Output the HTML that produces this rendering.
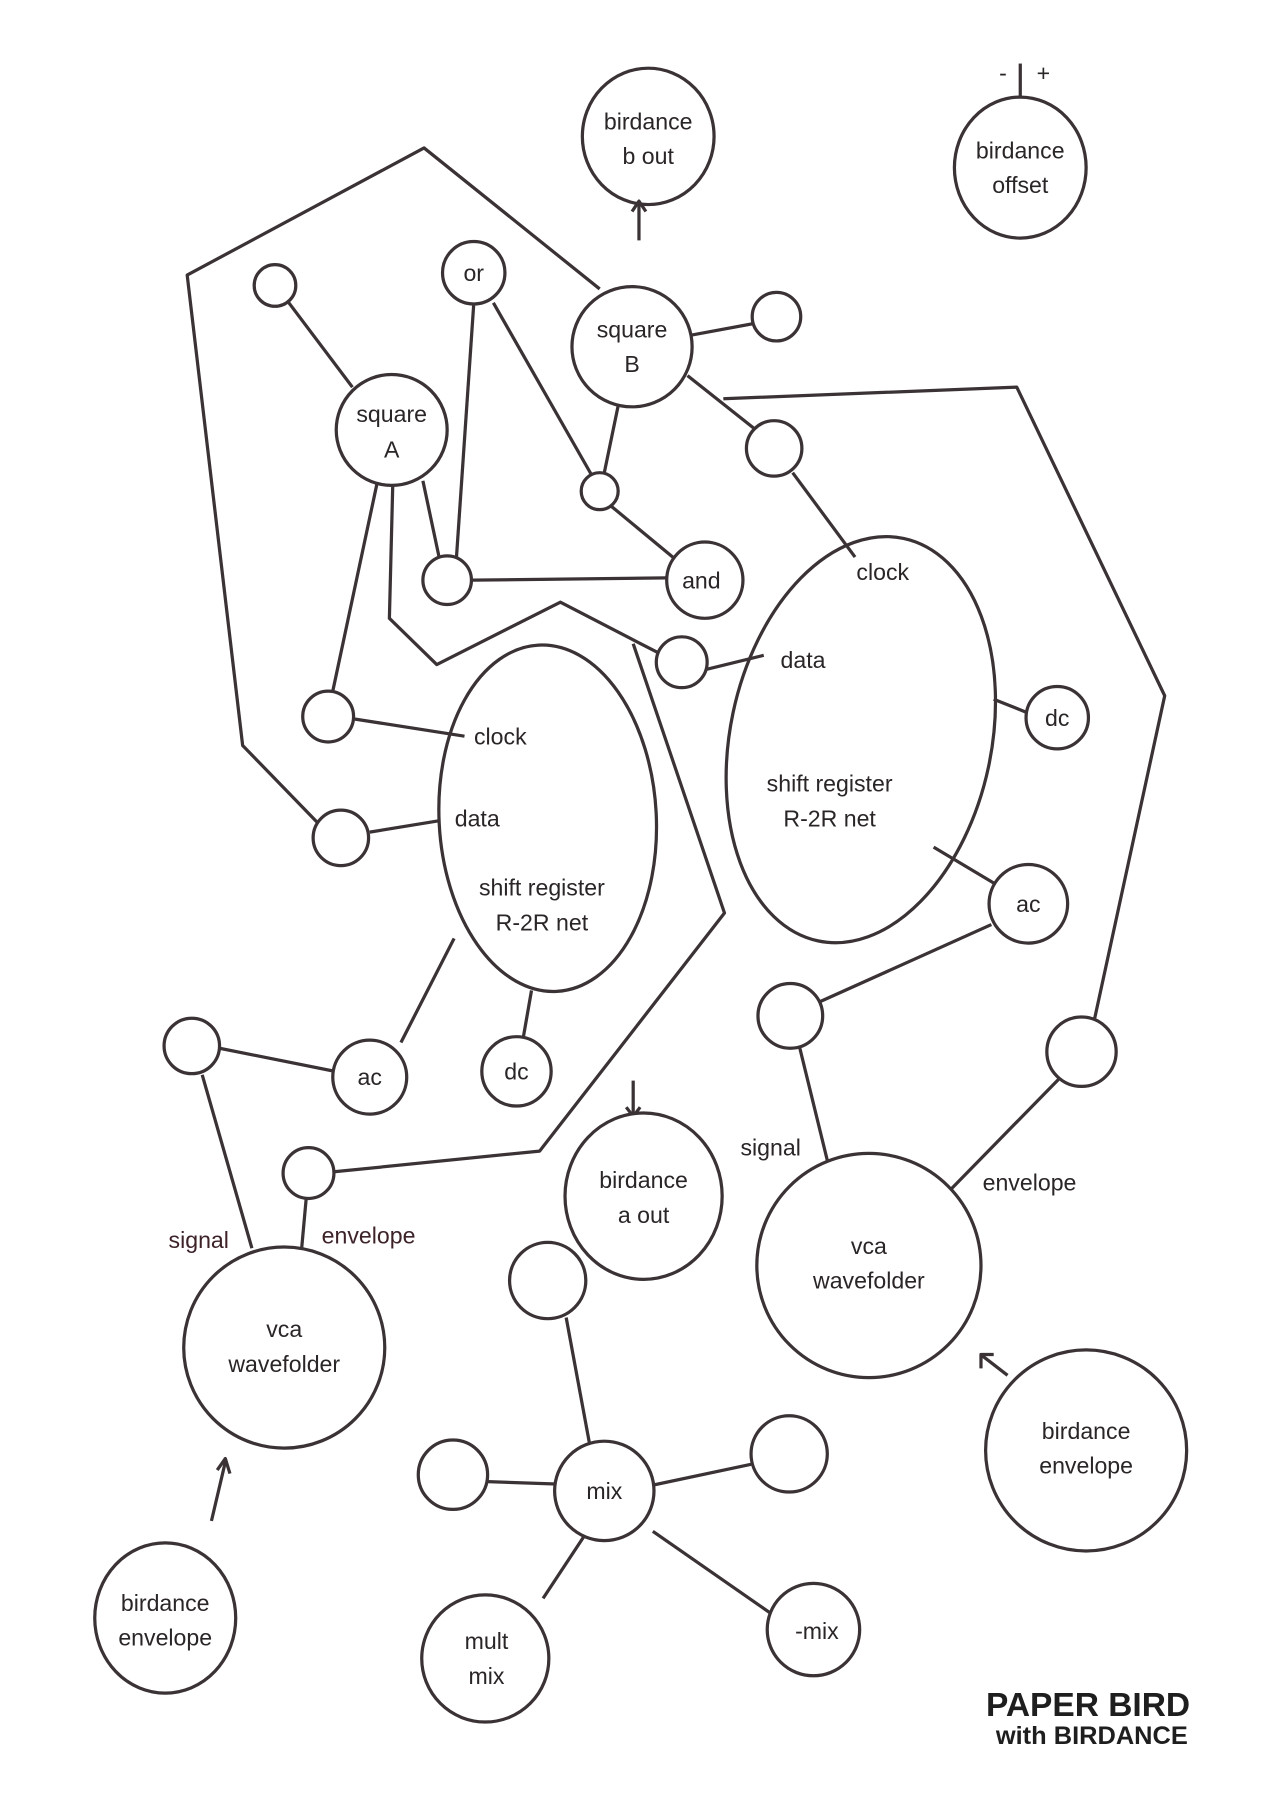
<!DOCTYPE html>
<html><head><meta charset="utf-8"><style>
html,body{margin:0;padding:0;background:#fff}
svg{display:block}
text{font-family:"Liberation Sans",sans-serif;font-size:20px;fill:#2a2527;text-anchor:middle}
</style></head><body>
<svg width="1271" height="1796" viewBox="0 0 1100 1554" preserveAspectRatio="none" xmlns="http://www.w3.org/2000/svg">
<g fill="none" stroke="#3a3235" stroke-width="2.8" stroke-linejoin="round">
<!-- top polygon -->
<polyline points="519,250 367,128 162,238 210,645 275,712"/>
<!-- lines -->
<line x1="883" y1="55" x2="883" y2="86"/>
<line x1="250" y1="262" x2="305" y2="335"/>
<line x1="598" y1="290" x2="652" y2="280"/>
<line x1="427" y1="262" x2="512" y2="411"/>
<line x1="535" y1="351" x2="523" y2="409"/>
<line x1="529" y1="438" x2="587" y2="486"/>
<line x1="409" y1="502" x2="577" y2="500"/>
<line x1="410" y1="263" x2="395" y2="483"/>
<line x1="366" y1="416" x2="380" y2="482"/>
<line x1="595" y1="325" x2="653" y2="371"/>
<line x1="686" y1="409" x2="740" y2="482"/>
<polyline points="626,345 880,335 1008,602 947,883"/>
<line x1="612" y1="579" x2="661" y2="567"/>
<line x1="860" y1="605" x2="890" y2="617"/>
<line x1="808" y1="733" x2="860" y2="764"/>
<line x1="858" y1="800" x2="709" y2="867"/>
<line x1="692" y1="906" x2="716" y2="1004"/>
<line x1="916" y1="934" x2="823" y2="1029"/>
<path d="M872,1190 L850,1173"/>
<path d="M849,1184 L849,1172 L860,1172"/>
<polyline points="340,416 337,535 378,575 485,521 570,565"/>
<polyline points="548,557 627,790 467,996 288,1014"/>
<line x1="327" y1="415" x2="288" y2="598"/>
<line x1="306" y1="622" x2="402" y2="637"/>
<line x1="320" y1="720" x2="381" y2="710"/>
<line x1="393" y1="812" x2="347" y2="902"/>
<line x1="460" y1="857" x2="453" y2="897"/>
<line x1="190" y1="907" x2="290" y2="927"/>
<line x1="175" y1="930" x2="218" y2="1080"/>
<line x1="265" y1="1037" x2="261" y2="1081"/>
<path d="M183,1316 L195,1265"/>
<path d="M188,1272 L195,1262 L199,1275"/>
<line x1="548" y1="935" x2="548" y2="966"/>
<path d="M542,958 L548,966 L554,958"/>
<line x1="490" y1="1140" x2="510" y2="1248"/>
<line x1="422" y1="1282" x2="481" y2="1284"/>
<line x1="565" y1="1285" x2="650" y2="1267"/>
<line x1="505" y1="1330" x2="470" y2="1383"/>
<line x1="565" y1="1325" x2="670" y2="1398"/>
<!-- circles -->
<ellipse cx="561" cy="118" rx="57" ry="59" fill="#fff"/>
<ellipse cx="883" cy="145" rx="57" ry="61" fill="#fff"/>
<circle cx="238" cy="247" r="18" fill="#fff"/>
<circle cx="410" cy="236" r="27" fill="#fff"/>
<circle cx="339" cy="372" r="48" fill="#fff"/>
<circle cx="547" cy="300" r="52" fill="#fff"/>
<circle cx="672" cy="274" r="21" fill="#fff"/>
<circle cx="519" cy="425" r="16" fill="#fff"/>
<circle cx="610" cy="502" r="33" fill="#fff"/>
<circle cx="387" cy="502" r="21" fill="#fff"/>
<circle cx="670" cy="388" r="24" fill="#fff"/>
<ellipse cx="745" cy="640" rx="113" ry="178" transform="rotate(12 745 640)" fill="none"/>
<circle cx="590" cy="573" r="22" fill="#fff"/>
<circle cx="915" cy="621" r="27" fill="#fff"/>
<circle cx="890" cy="782" r="34" fill="#fff"/>
<circle cx="684" cy="879" r="28" fill="#fff"/>
<circle cx="936" cy="910" r="30" fill="#fff"/>
<circle cx="752" cy="1095" r="97" fill="#fff"/>
<circle cx="940" cy="1255" r="87" fill="#fff"/>
<ellipse cx="474" cy="708" rx="94" ry="150" transform="rotate(-3 474 708)" fill="none"/>
<circle cx="284" cy="620" r="22" fill="#fff"/>
<circle cx="295" cy="725" r="24" fill="#fff"/>
<circle cx="320" cy="932" r="32" fill="#fff"/>
<circle cx="447" cy="927" r="30" fill="#fff"/>
<circle cx="166" cy="905" r="24" fill="#fff"/>
<circle cx="267" cy="1015" r="22" fill="#fff"/>
<circle cx="246" cy="1166" r="87" fill="#fff"/>
<ellipse cx="143" cy="1400" rx="61" ry="65" fill="#fff"/>
<ellipse cx="557" cy="1035" rx="68" ry="72" fill="#fff"/>
<circle cx="523" cy="1290" r="43" fill="#fff"/>
<circle cx="474" cy="1108" r="33" fill="#fff"/>
<circle cx="392" cy="1276" r="30" fill="#fff"/>
<circle cx="683" cy="1258" r="33" fill="#fff"/>
<circle cx="420" cy="1435" r="55" fill="#fff"/>
<circle cx="704" cy="1410" r="40" fill="#fff"/>
<!-- b out arrow on top -->
<line x1="553" y1="208" x2="553" y2="176"/>
<path d="M547,183 L553,174 L559,183"/>
</g>
<g>
<text x="561" y="112">birdance</text><text x="561" y="142">b out</text>
<text x="868" y="70">-</text><text x="903" y="70">+</text>
<text x="883" y="137">birdance</text><text x="883" y="167">offset</text>
<text x="410" y="243">or</text>
<text x="339" y="365">square</text><text x="339" y="396">A</text>
<text x="547" y="292">square</text><text x="547" y="322">B</text>
<text x="607" y="509">and</text>
<text x="764" y="502">clock</text>
<text x="695" y="578">data</text>
<text x="718" y="685">shift register</text><text x="718" y="715">R-2R net</text>
<text x="915" y="628">dc</text>
<text x="890" y="789">ac</text>
<text x="752" y="1085">vca</text><text x="752" y="1115">wavefolder</text>
<text x="667" y="1000">signal</text>
<text x="891" y="1030">envelope</text>
<text x="940" y="1245">birdance</text><text x="940" y="1275">envelope</text>
<text x="433" y="644">clock</text>
<text x="413" y="715">data</text>
<text x="469" y="775">shift register</text><text x="469" y="805">R-2R net</text>
<text x="320" y="939">ac</text>
<text x="447" y="934">dc</text>
<text x="172" y="1080" style="fill:#3d2228">signal</text>
<text x="319" y="1076" style="fill:#3d2228">envelope</text>
<text x="246" y="1157">vca</text><text x="246" y="1187">wavefolder</text>
<text x="143" y="1394">birdance</text><text x="143" y="1424">envelope</text>
<text x="557" y="1028">birdance</text><text x="557" y="1058">a out</text>
<text x="523" y="1297">mix</text>
<text x="421" y="1427">mult</text><text x="421" y="1457">mix</text>
<text x="707" y="1418">-mix</text>
<text x="1030" y="1485" style="text-anchor:end;font-size:29px;font-weight:bold;fill:#1e1e1e">PAPER BIRD</text>
<text x="1028" y="1509" style="text-anchor:end;font-size:22px;font-weight:bold;fill:#1e1e1e">with BIRDANCE</text>
</g>
</svg>
</body></html>
